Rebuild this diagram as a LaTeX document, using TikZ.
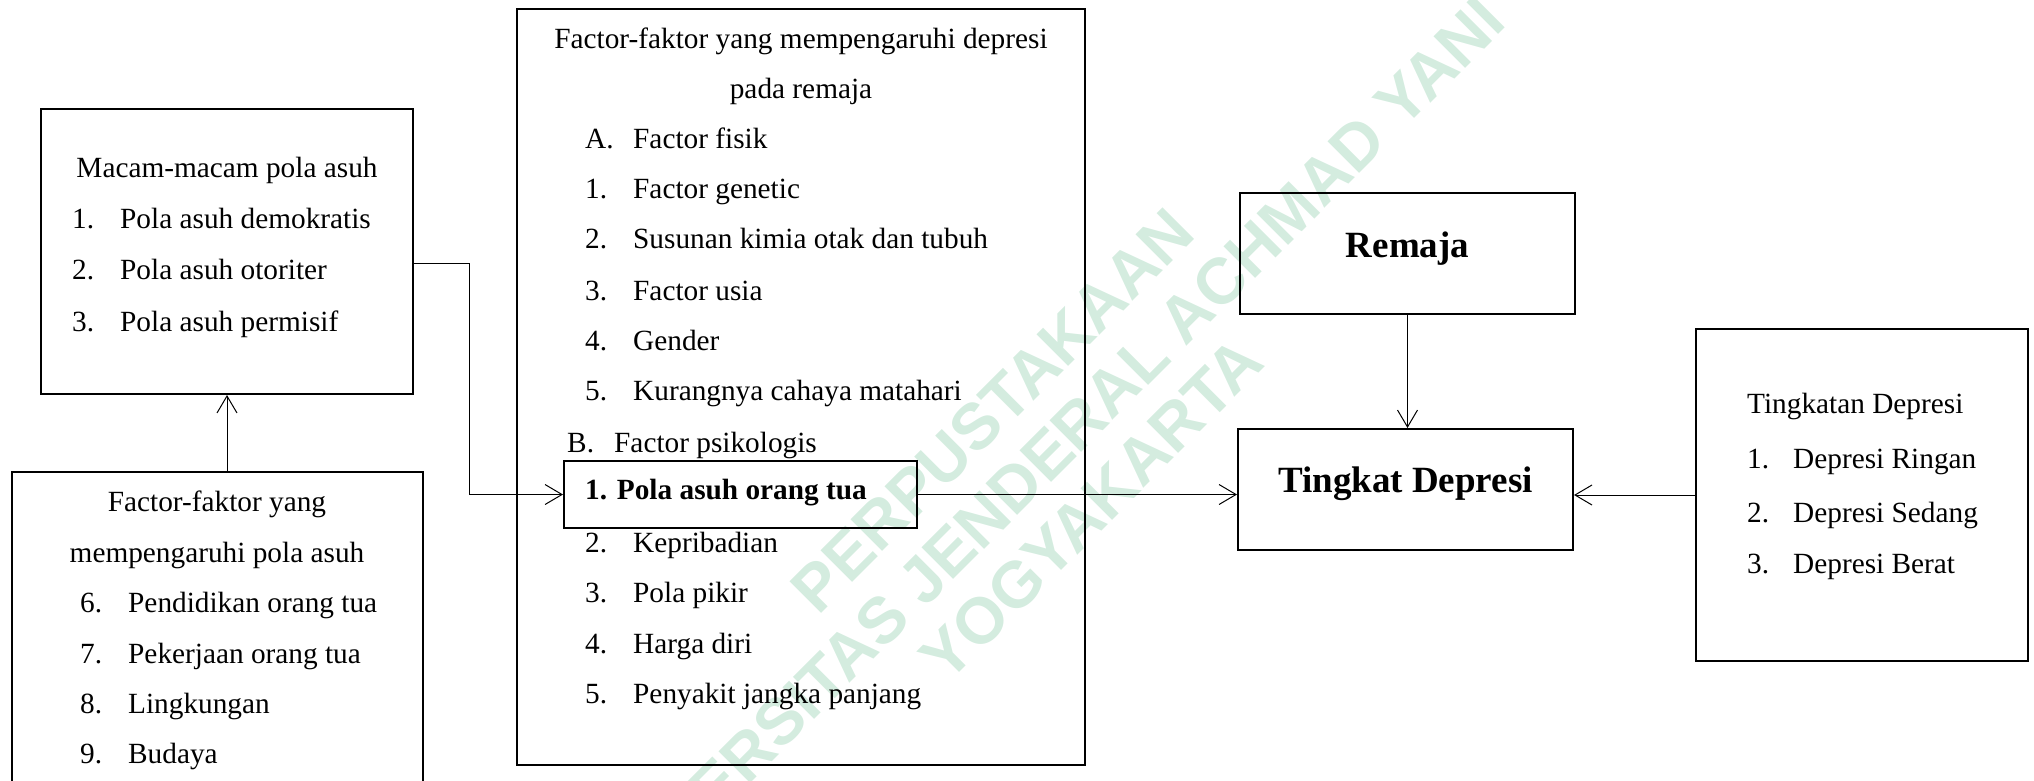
\documentclass[tikz,border=0pt]{standalone}
\usepackage{fontspec}
\setmainfont{Liberation Serif}
\newfontfamily\wmfont{Liberation Sans}
\usetikzlibrary{arrows.meta}
\definecolor{wmgreen}{RGB}{212,236,223}
\begin{document}
\begin{tikzpicture}[x=1pt,y=-1pt,
  box/.style={draw, line width=2pt, inner sep=0pt},
  txt/.style={inner sep=0pt, anchor=base west, font=\fontsize{29.3}{35}\selectfont},
  ctxt/.style={txt, anchor=base},
  btxt/.style={inner sep=0pt, anchor=base, font=\fontsize{37}{44}\selectfont\bfseries},
  arr/.style={line width=1pt, -{Straight Barb[length=17pt,width=20pt]}},
  conn/.style={line width=1pt}]
\useasboundingbox (0,0) rectangle (2034,780);
\clip (0,0) rectangle (2034,780);
% watermark
\node[rotate=45, text=wmgreen, align=center, inner sep=0pt,
      font=\wmfont\bfseries\fontsize{65}{70}\selectfont] (wm) at (1042,460)
  {PERPUSTAKAAN\\UNIVERSITAS JENDERAL ACHMAD YANI\\YOGYAKARTA};
% boxes
\node[box, minimum width=372pt, minimum height=285pt] (b1) at (227,251.5) {};
\node[box, minimum width=411pt, minimum height=336pt] (b2) at (217.5,640) {};
\node[box, minimum width=568pt, minimum height=756pt] (b3) at (801,387) {};
\node[box, minimum width=353pt, minimum height=67pt] (bold) at (740.5,494.5) {};
\node[box, minimum width=335pt, minimum height=121pt] (remaja) at (1407.5,253.5) {};
\node[box, minimum width=335pt, minimum height=121pt] (tingkat) at (1405.5,489.5) {};
\node[box, minimum width=332pt, minimum height=332pt] (tingkatan) at (1862,495) {};
% box 1 text
\node[ctxt] (t1) at (227,177) {Macam-macam pola asuh};
\node[txt] (t1n1) at (72,228) {1.};
\node[txt] (t1i1) at (120,228) {Pola asuh demokratis};
\node[txt] (t1n2) at (72,279) {2.};
\node[txt] (t1i2) at (120,279) {Pola asuh otoriter};
\node[txt] (t1n3) at (72,331) {3.};
\node[txt] (t1i3) at (120,331) {Pola asuh permisif};
% box 2 text
\node[ctxt] (t2a) at (217,511) {Factor-faktor yang};
\node[ctxt] (t2b) at (217,562) {mempengaruhi pola asuh};
\node[txt] (t2n6) at (80,612) {6.};
\node[txt] (t2i6) at (128,612) {Pendidikan orang tua};
\node[txt] (t2n7) at (80,663) {7.};
\node[txt] (t2i7) at (128,663) {Pekerjaan orang tua};
\node[txt] (t2n8) at (80,713) {8.};
\node[txt] (t2i8) at (128,713) {Lingkungan};
\node[txt] (t2n9) at (80,763) {9.};
\node[txt] (t2i9) at (128,763) {Budaya};
% box 3 text
\node[ctxt] (t3a) at (801,48) {Factor-faktor yang mempengaruhi depresi};
\node[ctxt] (t3b) at (801,98) {pada remaja};
\node[txt] (t3nA) at (585,148) {A.};
\node[txt] (t3iA) at (633,148) {Factor fisik};
\node[txt] (t3n1) at (585,198) {1.};
\node[txt] (t3i1) at (633,198) {Factor genetic};
\node[txt] (t3n2) at (585,248) {2.};
\node[txt] (t3i2) at (633,248) {Susunan kimia otak dan tubuh};
\node[txt] (t3n3) at (585,300) {3.};
\node[txt] (t3i3) at (633,300) {Factor usia};
\node[txt] (t3n4) at (585,350) {4.};
\node[txt] (t3i4) at (633,350) {Gender};
\node[txt] (t3n5) at (585,400) {5.};
\node[txt] (t3i5) at (633,400) {Kurangnya cahaya matahari};
\node[txt] (t3nB) at (567,452) {B.};
\node[txt] (t3iB) at (614,452) {Factor psikologis};
\node[txt, font=\fontsize{29.3}{35}\selectfont\bfseries] (t3bold) at (585,499) {1. Pola asuh orang tua};
\node[txt] (t3m2) at (585,552) {2.};
\node[txt] (t3j2) at (633,552) {Kepribadian};
\node[txt] (t3m3) at (585,602) {3.};
\node[txt] (t3j3) at (633,602) {Pola pikir};
\node[txt] (t3m4) at (585,653) {4.};
\node[txt] (t3j4) at (633,653) {Harga diri};
\node[txt] (t3m5) at (585,703) {5.};
\node[txt] (t3j5) at (633,703) {Penyakit jangka panjang};
% right boxes text
\node[btxt] (tr) at (1407.5,257) {Remaja};
\node[btxt] (tt) at (1405.5,492) {Tingkat Depresi};
\node[txt] (t4) at (1747,413) {Tingkatan Depresi};
\node[txt] (t4n1) at (1747,468) {1.};
\node[txt] (t4i1) at (1793,468) {Depresi Ringan};
\node[txt] (t4n2) at (1747,522) {2.};
\node[txt] (t4i2) at (1793,522) {Depresi Sedang};
\node[txt] (t4n3) at (1747,573) {3.};
\node[txt] (t4i3) at (1793,573) {Depresi Berat};
% connectors
\draw[arr] (b1.south |- b2.north) -- (b1.south);
\draw[arr] ([yshift=-11.5pt]b1.east) -- ++(55,0) |- (bold.west);
\draw[arr] (bold.east) -- (bold.east -| tingkat.west);
\draw[arr] (remaja.south) -- (remaja.south |- tingkat.north);
\draw[arr] (tingkatan.west) -- (tingkatan.west -| tingkat.east);
\end{tikzpicture}
\end{document}
